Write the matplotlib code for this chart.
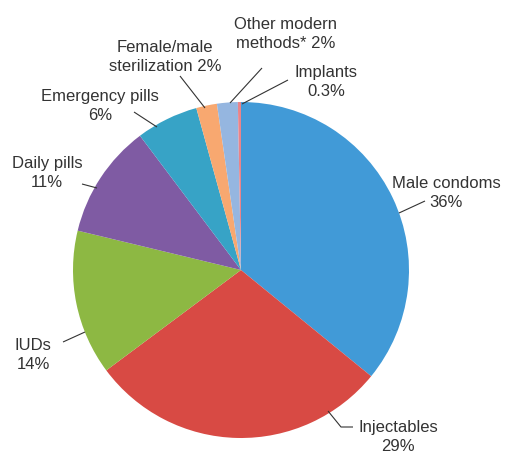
import matplotlib
matplotlib.use("Agg")
import matplotlib.pyplot as plt

labels = ["Male condoms", "Injectables", "IUDs", "Daily pills", "Emergency pills",
          "Female/male\nsterilization", "Other modern\nmethods*", "Implants"]
values = [36, 29, 14, 11, 6, 2, 2, 0.3]
pct_text = ["36%", "29%", "14%", "11%", "6%", "2%", "2%", "0.3%"]
colors = ["#419AD7", "#D84A44", "#8DB843", "#7F5BA3", "#37A3C6", "#F8A870", "#95B6E0", "#E9848A"]

W, H = 506, 451
fig = plt.figure(figsize=(W / 100, H / 100), dpi=100)
ax = fig.add_axes([0, 0, 1, 1])
ax.set_xlim(0, W)
ax.set_ylim(0, H)
ax.set_aspect("equal")
ax.axis("off")

cx, cy, r = 241, 270, 168
ax.pie(values, colors=colors, startangle=90, counterclock=False,
       center=(cx, H - cy), radius=r, wedgeprops=dict(linewidth=0))
ax.set_xlim(0, W)
ax.set_ylim(0, H)

def Y(y):
    return H - y

txtc = "#333333"
fs = 12
font = "Liberation Sans"

label_pos = [
    ("Male condoms\n36%", 446, 193),
    ("Injectables\n29%", 398, 437),
    ("IUDs\n14%", 33, 355),
    ("Daily pills\n11%", 47, 173),
    ("Emergency pills\n6%", 100, 106),
    ("Female/male\nsterilization 2%", 165, 57),
    ("Other modern\nmethods* 2%", 286, 34),
    ("Implants\n0.3%", 326, 82),
]
for t, x, y in label_pos:
    ax.text(x, Y(y), t, ha="center", va="center", fontsize=fs, color=txtc,
            family=font, linespacing=1.3)

leaders = [
    [(399, 213), (425, 201)],
    [(328, 411), (341, 427), (353, 427)],
    [(85, 332), (63, 342)],
    [(97, 188), (82, 184)],
    [(157, 127), (134, 112)],
    [(205, 108), (180, 76)],
    [(230, 103), (262, 68)],
    [(242, 104), (288, 80)],
]
for pts in leaders:
    xs = [p[0] for p in pts]
    ys = [Y(p[1]) for p in pts]
    ax.plot(xs, ys, color="#333333", lw=0.8, solid_capstyle="butt")

fig.savefig("out.png", dpi=100)
